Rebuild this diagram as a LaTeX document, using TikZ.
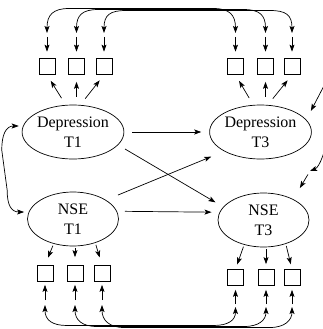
\documentclass[tikz,border=0pt]{standalone}
\usepackage{fontspec}
\setmainfont{Liberation Serif}
\usetikzlibrary{arrows.meta,calc,shapes.geometric}
\begin{document}
\begin{tikzpicture}[x=1pt,y=-1pt,
  lat/.style={ellipse,draw,line width=0.7pt,minimum width=91pt,minimum height=54pt,inner sep=0pt,align=center,font=\fontsize{16}{20}\selectfont},
  ind/.style={rectangle,draw,line width=0.7pt,minimum size=16pt,inner sep=0pt},
  arr/.style={line width=0.7pt,-{Stealth[length=7pt,width=5pt,inset=1.5pt]}},
  cov/.style={line width=0.7pt,{Stealth[length=7pt,width=5pt,inset=1.5pt]}-{Stealth[length=7pt,width=5pt,inset=1.5pt]}}]
\useasboundingbox (0,0) rectangle (322,329);
% latent variables
\node[lat] (d1) at (73,132) {Depression\\T1};
\node[lat] (n1) at (73,219) {NSE\\T1};
\node[lat] (d3) at (260.5,132) {Depression\\T3};
\node[lat] (n3) at (263.5,220) {NSE\\T3};
% indicators
\node[ind] (b1) at (47,66.5) {};
\node[ind] (b2) at (76.5,66.5) {};
\node[ind] (b3) at (104,66.5) {};
\node[ind] (b4) at (235.5,66.5) {};
\node[ind] (b5) at (265.5,66.5) {};
\node[ind] (b6) at (292,66.5) {};
\node[ind] (c1) at (45,273.5) {};
\node[ind] (c2) at (75,273.5) {};
\node[ind] (c3) at (102,273.5) {};
\node[ind] (c4) at (235.5,277.5) {};
\node[ind] (c5) at (266,277.5) {};
\node[ind] (c6) at (292,277.5) {};
% error terms
\coordinate (e1) at (47,35);
\coordinate (e2) at (76.5,35);
\coordinate (e3) at (104,35);
\coordinate (e4) at (235.5,35);
\coordinate (e5) at (265.5,35);
\coordinate (e6) at (292,35);
\coordinate (f1) at (45,302.5);
\coordinate (f2) at (75,302.5);
\coordinate (f3) at (102,302.5);
\coordinate (f4) at (235.5,306);
\coordinate (f5) at (266,306);
\coordinate (f6) at (292,306);
\coordinate (z1) at (327,80);
\coordinate (z2) at (310,171);
% loadings
\draw[arr,shorten <=8pt,shorten >=7pt] (d1.105) -- (b1.south);
\draw[arr,shorten <=8pt,shorten >=7pt] (b2.south |- d1.north) -- (b2.south);
\draw[arr,shorten <=8pt,shorten >=7pt] (d1.75) -- (b3.south);
\draw[arr,shorten <=8pt,shorten >=7pt] (d3.105) -- (b4.south);
\draw[arr,shorten <=8pt,shorten >=7pt] (b5.south |- d3.north) -- (b5.south);
\draw[arr,shorten <=8pt,shorten >=7pt] (d3.75) -- (b6.south);
\draw[arr,shorten <=2pt,shorten >=8pt] (n1.-128) -- (c1.north);
\draw[arr,shorten <=2pt,shorten >=8pt] (c2.north |- n1.south) -- (c2.north);
\draw[arr,shorten <=2pt,shorten >=8pt] (n1.-47) -- (c3.north);
\draw[arr,shorten <=2pt,shorten >=5pt] (n3.-128) -- (c4.north);
\draw[arr,shorten <=2pt,shorten >=5pt] (c5.north |- n3.south) -- (c5.north);
\draw[arr,shorten <=2pt,shorten >=5pt] (n3.-47) -- (c6.north);
% structural paths
\draw[arr,shorten <=8pt,shorten >=8pt] (d1.east) -- (d3.west);
\draw[arr,shorten <=8pt,shorten >=8pt] (n1.10) -- (n3.170);
\draw[arr,shorten <=8pt,shorten >=9pt] (d1.-16) -- (n3.162);
\draw[arr,shorten <=13pt,shorten >=14pt] (n1.30) -- (d3.-152);
% T1 covariance
\draw[cov] ($(d1.west)+(-3,-6)$) .. controls +(-13,0) and +(0,-15) .. ($(d1.west)+(-20,18)$)
  -- ($(n1.west)+(-20,-29)$) .. controls +(0,15) and +(-13,0) .. ($(n1.west)+(-3,-7)$);
% error arrows
\draw[arr,shorten <=2pt,shorten >=6.5pt] (e1) -- (b1.north);
\draw[arr,shorten <=2pt,shorten >=6.5pt] (e2) -- (b2.north);
\draw[arr,shorten <=2pt,shorten >=6.5pt] (e3) -- (b3.north);
\draw[arr,shorten <=2pt,shorten >=6.5pt] (e4) -- (b4.north);
\draw[arr,shorten <=2pt,shorten >=6.5pt] (e5) -- (b5.north);
\draw[arr,shorten <=2pt,shorten >=6.5pt] (e6) -- (b6.north);
\draw[arr,shorten <=2.5pt,shorten >=3pt] (f1) -- (c1.south);
\draw[arr,shorten <=2.5pt,shorten >=3pt] (f2) -- (c2.south);
\draw[arr,shorten <=2.5pt,shorten >=3pt] (f3) -- (c3.south);
\draw[arr,shorten <=2pt,shorten >=4pt] (f4) -- (c4.south);
\draw[arr,shorten <=2pt,shorten >=4pt] (f5) -- (c5.south);
\draw[arr,shorten <=2pt,shorten >=4pt] (f6) -- (c6.south);
% top error covariances
\draw[cov] ($(e1)+(0,-2)$) .. controls +(0,-18) and +(-16,0) .. ($(e1)+(22,-26.5)$)
  -- ($(e4)+(-22,-26.5)$) .. controls +(16,0) and +(0,-18) .. ($(e4)+(0,-2)$);
\draw[cov] ($(e2)+(0,-2)$) .. controls +(0,-18) and +(-16,0) .. ($(e2)+(22,-25.5)$)
  -- ($(e5)+(-22,-25.5)$) .. controls +(16,0) and +(0,-18) .. ($(e5)+(0,-2)$);
\draw[cov] ($(e3)+(0,-2)$) .. controls +(0,-18) and +(-16,0) .. ($(e3)+(22,-24.5)$)
  -- ($(e6)+(-22,-24.5)$) .. controls +(16,0) and +(0,-18) .. ($(e6)+(0,-2)$);
% bottom error covariances
\draw[cov] ($(f1)+(0,2.5)$) .. controls +(0,15) and +(-15,0) .. ($(f1)+(22,23)$)
  -- ($(f4)+(-22,19.5)$) .. controls +(15,0) and +(0,13) .. ($(f4)+(0,1)$);
\draw[cov] ($(f2)+(0,2.5)$) .. controls +(0,15) and +(-15,0) .. ($(f2)+(22,24)$)
  -- ($(f5)+(-22,20.5)$) .. controls +(15,0) and +(0,13) .. ($(f5)+(0,1)$);
\draw[cov] ($(f3)+(0,2.5)$) .. controls +(0,15) and +(-15,0) .. ($(f3)+(22,25)$)
  -- ($(f6)+(-22,21.5)$) .. controls +(15,0) and +(0,13) .. ($(f6)+(0,1)$);
% T3 disturbances
\draw[arr,shorten >=10pt] (z1) -- (d3.15);
\draw[cov] (z1) .. controls +(11,20) and +(15,-6) .. (z2);
\draw[arr,shorten <=4pt,shorten >=13pt] (z2) -- (n3.35);
\end{tikzpicture}
\end{document}
